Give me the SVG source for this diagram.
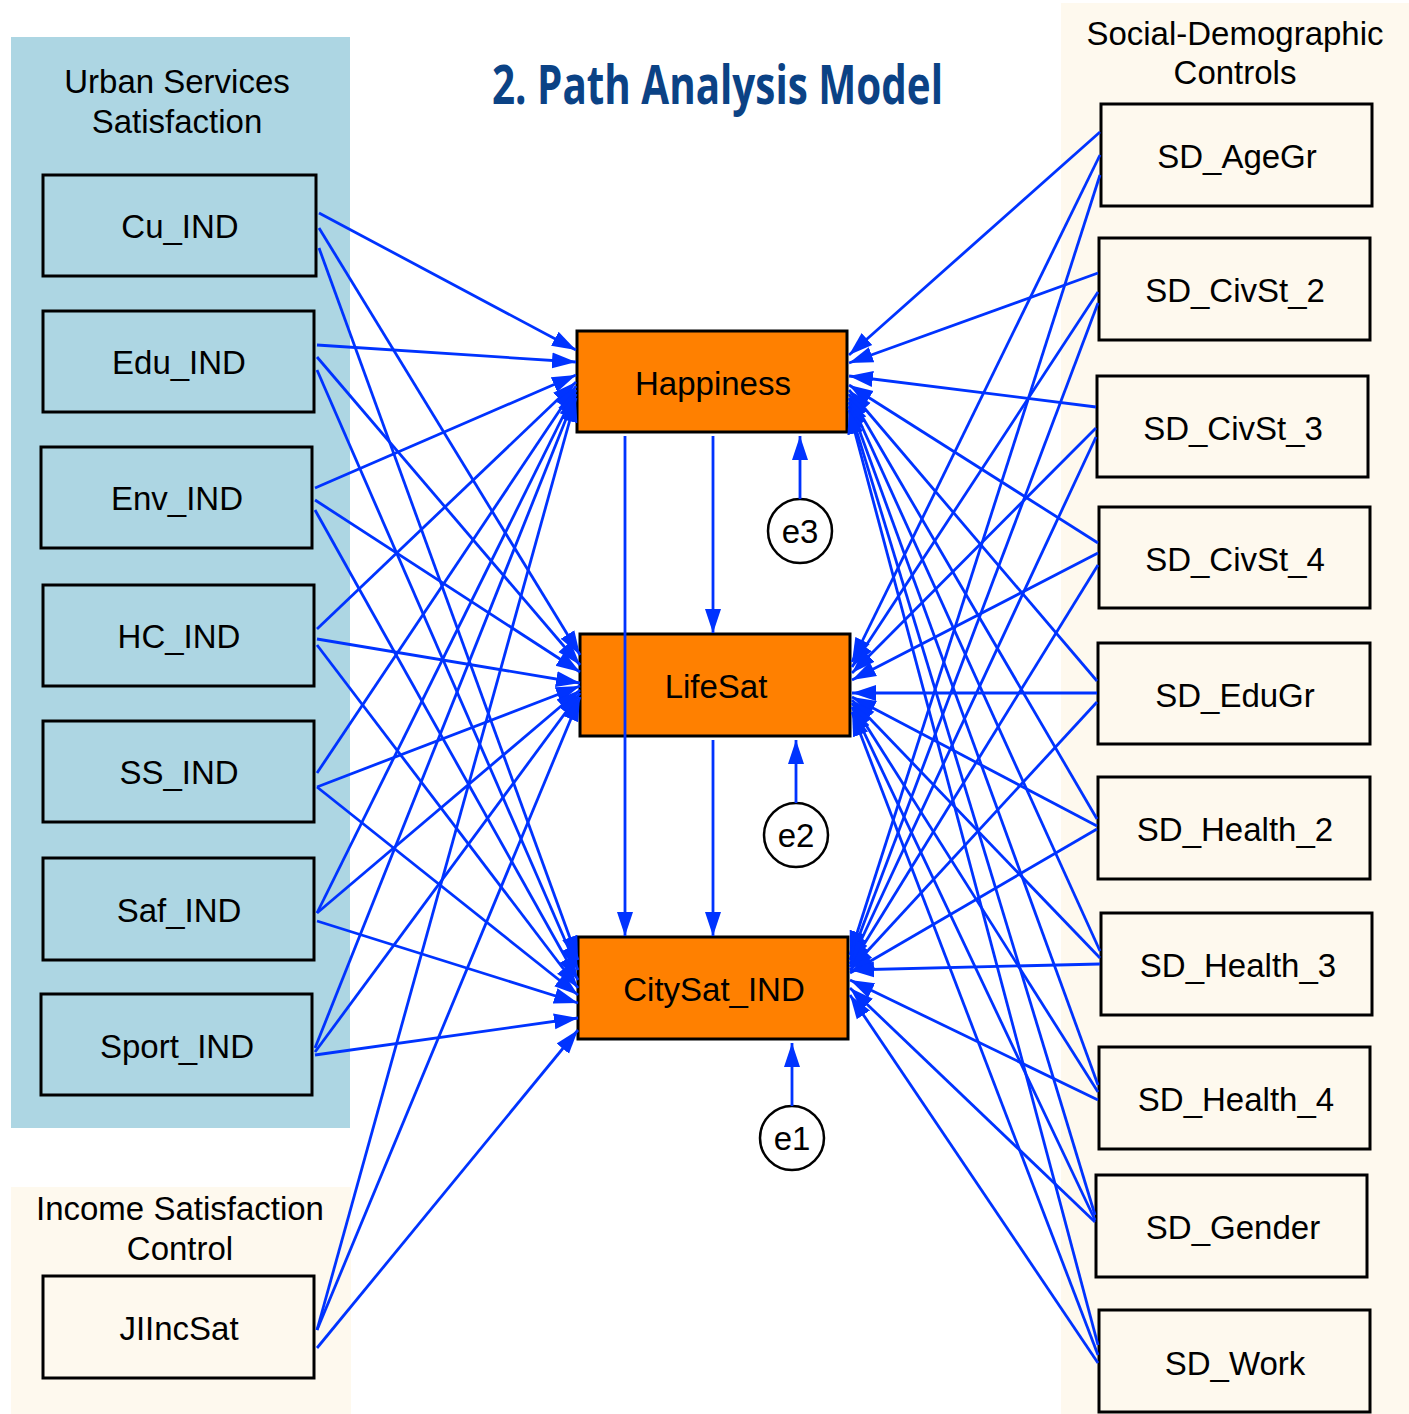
<svg xmlns="http://www.w3.org/2000/svg" width="1409" height="1414" viewBox="0 0 1409 1414">
<defs>
<style>
.panelB{fill:#ADD6E3}
.panelC{fill:#FEF9EE}
.ptitle{font-family:"Liberation Sans",Arial,sans-serif;font-size:33px;fill:#000;text-anchor:middle}
.box{stroke:#000;stroke-width:3}
.boxB{fill:#ADD6E3}
.boxC{fill:#FEF9EE}
.boxO{fill:#FF8000}
.lbl{font-family:"Liberation Sans",Arial,sans-serif;font-size:33px;fill:#000;text-anchor:middle}
.err{fill:#fff;stroke:#000;stroke-width:2.5}
.c line{stroke:#0033FF;stroke-width:2.8;marker-end:url(#ah)}
</style>
<marker id="ah" markerUnits="userSpaceOnUse" markerWidth="26" markerHeight="18" refX="24" refY="9" orient="auto">
<path d="M0,1 L24,9 L0,17 Z" fill="#0033FF"/>
</marker>
</defs>
<rect width="1409" height="1414" fill="#fff"/>
<g id="panels">
<rect class="panelB" x="11" y="37" width="339" height="1091"/>
<rect class="panelC" x="11" y="1187" width="340" height="227"/>
<rect class="panelC" x="1061" y="3" width="348" height="1411"/>
<text class="ptitle" x="177" y="93">Urban Services</text>
<text class="ptitle" x="177" y="133">Satisfaction</text>
<text class="ptitle" x="180" y="1220">Income Satisfaction</text>
<text class="ptitle" x="180" y="1260">Control</text>
<text class="ptitle" x="1235" y="45">Social-Demographic</text>
<text class="ptitle" x="1235" y="84">Controls</text>
</g>
<text x="492" y="104" textLength="451" lengthAdjust="spacingAndGlyphs" style="font-family:'Open Sans',Roboto,sans-serif;font-weight:bold;font-size:54px;fill:#0B4285">2. Path Analysis Model</text>

<g id="n_cu"><rect class="box boxB" x="43" y="175" width="273" height="101"/><text class="lbl" x="180" y="238">Cu_IND</text></g>
<g id="n_edu"><rect class="box boxB" x="43" y="311" width="271" height="101"/><text class="lbl" x="179" y="374">Edu_IND</text></g>
<g id="n_env"><rect class="box boxB" x="41" y="447" width="271" height="101"/><text class="lbl" x="177" y="510">Env_IND</text></g>
<g id="n_hc"><rect class="box boxB" x="43" y="585" width="271" height="101"/><text class="lbl" x="179" y="648">HC_IND</text></g>
<g id="n_ss"><rect class="box boxB" x="43" y="721" width="271" height="101"/><text class="lbl" x="179" y="784">SS_IND</text></g>
<g id="n_saf"><rect class="box boxB" x="43" y="858" width="271" height="102"/><text class="lbl" x="179" y="922">Saf_IND</text></g>
<g id="n_sport"><rect class="box boxB" x="41" y="994" width="271" height="101"/><text class="lbl" x="177" y="1058">Sport_IND</text></g>
<g id="n_jiincsat"><rect class="box boxC" x="43" y="1276" width="271" height="102"/><text class="lbl" x="179" y="1340">JIIncSat</text></g>

<g id="n_happiness"><rect class="box boxO" x="577" y="331" width="270" height="101"/><text class="lbl" x="713" y="395">Happiness</text></g>
<g id="n_lifesat"><rect class="box boxO" x="580" y="634" width="270" height="102"/><text class="lbl" x="716" y="698">LifeSat</text></g>
<g id="n_citysat"><rect class="box boxO" x="578" y="937" width="270" height="102"/><text class="lbl" x="714" y="1001">CitySat_IND</text></g>

<g id="n_e3"><circle class="err" cx="800" cy="531" r="32"/><text class="lbl" x="800" y="543">e3</text></g>
<g id="n_e2"><circle class="err" cx="796" cy="835" r="32"/><text class="lbl" x="796" y="847">e2</text></g>
<g id="n_e1"><circle class="err" cx="792" cy="1138" r="32"/><text class="lbl" x="792" y="1150">e1</text></g>

<g id="n_agegr"><rect class="box boxC" x="1101" y="104" width="271" height="102"/><text class="lbl" x="1237" y="168">SD_AgeGr</text></g>
<g id="n_civst2"><rect class="box boxC" x="1099" y="238" width="271" height="102"/><text class="lbl" x="1235" y="302">SD_CivSt_2</text></g>
<g id="n_civst3"><rect class="box boxC" x="1097" y="376" width="271" height="101"/><text class="lbl" x="1233" y="440">SD_CivSt_3</text></g>
<g id="n_civst4"><rect class="box boxC" x="1099" y="507" width="271" height="101"/><text class="lbl" x="1235" y="571">SD_CivSt_4</text></g>
<g id="n_edugr"><rect class="box boxC" x="1098" y="643" width="272" height="101"/><text class="lbl" x="1235" y="707">SD_EduGr</text></g>
<g id="n_health2"><rect class="box boxC" x="1098" y="777" width="272" height="102"/><text class="lbl" x="1235" y="841">SD_Health_2</text></g>
<g id="n_health3"><rect class="box boxC" x="1101" y="913" width="271" height="102"/><text class="lbl" x="1238" y="977">SD_Health_3</text></g>
<g id="n_health4"><rect class="box boxC" x="1099" y="1047" width="271" height="102"/><text class="lbl" x="1236" y="1111">SD_Health_4</text></g>
<g id="n_gender"><rect class="box boxC" x="1096" y="1175" width="271" height="102"/><text class="lbl" x="1233" y="1239">SD_Gender</text></g>
<g id="n_work"><rect class="box boxC" x="1099" y="1310" width="271" height="102"/><text class="lbl" x="1235" y="1375">SD_Work</text></g>

<g id="connectors" class="c">
<!-- left sources -->
<line x1="319" y1="213" x2="576" y2="350"/>
<line x1="319" y1="228" x2="580" y2="655"/>
<line x1="319" y1="248" x2="578" y2="960"/>
<line x1="317" y1="345" x2="576" y2="362"/>
<line x1="317" y1="357" x2="580" y2="665"/>
<line x1="317" y1="370" x2="578" y2="970"/>
<line x1="315" y1="488" x2="576" y2="375"/>
<line x1="315" y1="500" x2="580" y2="672"/>
<line x1="315" y1="510" x2="578" y2="980"/>
<line x1="317" y1="629" x2="576" y2="382"/>
<line x1="317" y1="639" x2="580" y2="683"/>
<line x1="317" y1="645" x2="578" y2="988"/>
<line x1="317" y1="773" x2="576" y2="386"/>
<line x1="317" y1="787" x2="580" y2="686"/>
<line x1="317" y1="787" x2="578" y2="995"/>
<line x1="317" y1="913" x2="576" y2="390"/>
<line x1="317" y1="913" x2="580" y2="690"/>
<line x1="317" y1="921" x2="578" y2="1003"/>
<line x1="315" y1="1048" x2="576" y2="394"/>
<line x1="315" y1="1052" x2="580" y2="693"/>
<line x1="315" y1="1055" x2="578" y2="1018"/>
<line x1="317" y1="1330" x2="576" y2="398"/>
<line x1="317" y1="1330" x2="580" y2="697"/>
<line x1="317" y1="1348" x2="578" y2="1030"/>
<!-- right sources -->
<line x1="1100" y1="132" x2="849" y2="355"/>
<line x1="1100" y1="155" x2="852" y2="662"/>
<line x1="1100" y1="175" x2="850" y2="955"/>
<line x1="1098" y1="273" x2="849" y2="363"/>
<line x1="1098" y1="292" x2="852" y2="667"/>
<line x1="1098" y1="303" x2="850" y2="960"/>
<line x1="1096" y1="407" x2="849" y2="376"/>
<line x1="1096" y1="428" x2="852" y2="673"/>
<line x1="1096" y1="437" x2="850" y2="964"/>
<line x1="1098" y1="543" x2="849" y2="385"/>
<line x1="1098" y1="553" x2="852" y2="680"/>
<line x1="1098" y1="565" x2="850" y2="967"/>
<line x1="1097" y1="681" x2="849" y2="390"/>
<line x1="1097" y1="693" x2="852" y2="693"/>
<line x1="1097" y1="702" x2="850" y2="970"/>
<line x1="1097" y1="819" x2="849" y2="394"/>
<line x1="1097" y1="826" x2="852" y2="697"/>
<line x1="1097" y1="829" x2="850" y2="973"/>
<line x1="1100" y1="951" x2="849" y2="398"/>
<line x1="1100" y1="958" x2="852" y2="700"/>
<line x1="1100" y1="964" x2="850" y2="970"/>
<line x1="1098" y1="1085" x2="849" y2="402"/>
<line x1="1098" y1="1092" x2="852" y2="703"/>
<line x1="1098" y1="1100" x2="850" y2="980"/>
<line x1="1095" y1="1215" x2="849" y2="406"/>
<line x1="1095" y1="1220" x2="852" y2="707"/>
<line x1="1095" y1="1222" x2="850" y2="988"/>
<line x1="1098" y1="1345" x2="849" y2="410"/>
<line x1="1098" y1="1355" x2="852" y2="712"/>
<line x1="1098" y1="1363" x2="850" y2="995"/>
<!-- internal -->
<line x1="625" y1="436" x2="625" y2="936"/>
<line x1="713" y1="436" x2="713" y2="633"/>
<line x1="713" y1="740" x2="713" y2="936"/>
<line x1="800" y1="499" x2="800" y2="436"/>
<line x1="796" y1="803" x2="796" y2="740"/>
<line x1="792" y1="1106" x2="792" y2="1043"/>
</g>
</svg>
